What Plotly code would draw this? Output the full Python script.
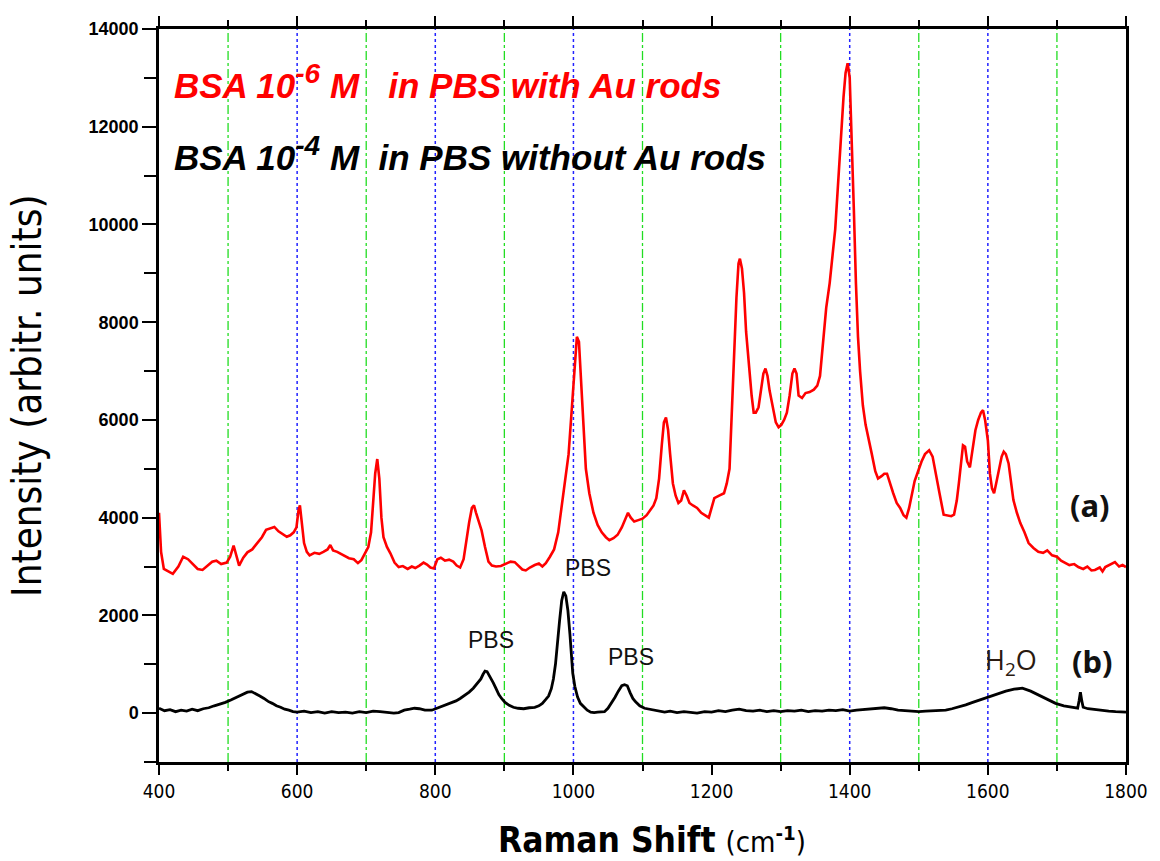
import plotly.graph_objects as go

# Raman shift (cm^-1) and intensity, spectrum (a): BSA 1e-6 M in PBS with Au rods
shift_a = [400, 403, 407, 413, 420, 428, 435, 442, 449, 456, 463, 470, 477, 483, 490, 498, 503, 508, 512, 516,
           522, 528, 535, 543, 549, 555, 561, 567, 573, 579, 585, 590, 595, 599, 602, 604, 607, 610, 614, 618,
           625, 632, 638, 644, 648, 652, 658, 664, 670, 675, 682, 688, 693, 698, 703, 707, 710, 713, 716, 719,
           722, 725, 730, 735, 741, 747, 753, 760, 766, 771, 777, 783, 788, 793, 798, 803, 808, 814, 820, 826,
           831, 836, 841, 845, 849, 853, 856, 859, 863, 867, 872, 877, 882, 888, 895, 902, 909, 915, 921, 926,
           931, 937, 944, 950, 955, 960, 966, 972, 978, 983, 988, 993, 998, 1002, 1005, 1008, 1011, 1014, 1018,
           1023, 1029, 1035, 1041, 1047, 1052, 1058, 1064, 1070, 1075, 1079, 1083, 1088, 1094, 1100, 1106, 1111,
           1116, 1120, 1124, 1128, 1131, 1134, 1137, 1140, 1144, 1148, 1152, 1156, 1160, 1164, 1168, 1173, 1179,
           1185, 1190, 1196, 1200, 1204, 1211, 1218, 1222, 1226, 1230, 1233, 1236, 1239, 1241, 1244, 1247, 1250,
           1254, 1258, 1261, 1264, 1268, 1272, 1275, 1278, 1281, 1284, 1289, 1293, 1297, 1301, 1305, 1309, 1313,
           1317, 1320, 1323, 1326, 1331, 1336, 1342, 1348, 1353, 1357, 1361, 1366, 1371, 1375, 1379, 1383, 1387,
           1391, 1394, 1397, 1400, 1403, 1406, 1409, 1412, 1415, 1419, 1423, 1427, 1432, 1437, 1441, 1446, 1450,
           1454, 1458, 1463, 1468, 1473, 1478, 1482, 1486, 1490, 1494, 1499, 1504, 1509, 1515, 1520, 1525, 1530,
           1536, 1542, 1547, 1551, 1555, 1558, 1561, 1564, 1567, 1570, 1574, 1578, 1582, 1586, 1590, 1593, 1596,
           1600, 1603, 1606, 1609, 1612, 1616, 1620, 1623, 1626, 1630, 1634, 1637, 1642, 1647, 1653, 1659, 1666,
           1673, 1680, 1686, 1693, 1700, 1706, 1712, 1718, 1725, 1731, 1738, 1744, 1750, 1755, 1762, 1766, 1770,
           1777, 1784, 1790, 1795, 1800]
intensity_a = [4100, 3300, 2950, 2900, 2850, 3000, 3200, 3150, 3050, 2950, 2930, 3020, 3100, 3120, 3050, 3080, 3200, 3430, 3250, 3020,
               3180, 3290, 3350, 3480, 3600, 3750, 3780, 3810, 3720, 3660, 3610, 3640, 3700, 3800, 4150, 4250, 3900, 3480, 3300, 3230,
               3280, 3260, 3300, 3350, 3440, 3330, 3300, 3250, 3200, 3170, 3150, 3070, 3130, 3250, 3400, 3700, 4300, 4900, 5200, 4800,
               4000, 3600, 3400, 3270, 3080, 2990, 3010, 2950, 3000, 2970, 3020, 3080, 3040, 2980, 2960, 3150, 3180, 3120, 3140, 3100,
               3020, 2980, 3150, 3580, 3900, 4200, 4250, 4100, 3900, 3740, 3400, 3100, 3020, 3000, 3010, 3050, 3100, 3090, 3000, 2940,
               2920, 2980, 3030, 3060, 3000, 3070, 3200, 3350, 3700, 4200, 4700, 5300, 6300, 7200, 7700, 7600, 6800, 5800, 5000,
               4500, 4100, 3850, 3700, 3600, 3540, 3580, 3650, 3800, 3950, 4100, 4000, 3920, 3950, 3980, 4050, 4150,
               4250, 4400, 4800, 5500, 5950, 6050, 5800, 5300, 4700, 4450, 4300, 4350, 4560, 4450, 4300, 4250, 4200,
               4100, 4050, 4000, 4200, 4400, 4450, 4500, 4700, 5000, 6400, 7600, 8500, 9200, 9300, 9100, 8600, 7800,
               7050, 6500, 6150, 6150, 6260, 6600, 6950, 7050, 6900, 6600, 6200, 5950, 5850, 5900, 6000, 6150, 6500,
               6950, 7050, 6950, 6500, 6450, 6550, 6570, 6620, 6700, 6900, 7600, 8300, 8800, 9400, 9900, 10800, 11800,
               12600, 13100, 13300, 13000, 11800, 10300, 8800, 7700, 7000, 6300, 5900, 5600, 5300, 4950, 4800, 4850, 4900,
               4900, 4700, 4500, 4300, 4200, 4050, 4000, 4200, 4450, 4750, 4950, 5150, 5300, 5380, 5250, 4910, 4500,
               4060, 4050, 4030, 4060, 4350, 4700, 5100, 5480, 5450, 5150, 5030, 5400, 5790, 6000, 6150, 6200, 6000,
               5580, 4900, 4600, 4500, 4700, 4970, 5250, 5350, 5300, 5110, 4700, 4360, 4100, 3890, 3700, 3480, 3380,
               3300, 3280, 3330, 3230, 3200, 3120, 3070, 3030, 3050, 2990, 2950, 3000, 2920, 2930, 2980, 2900, 2990,
               3040, 3090, 3000, 3030, 2990]

# Spectrum (b): BSA 1e-4 M in PBS without Au rods
shift_b = [400, 408, 416, 424, 432, 440, 448, 456, 464, 472, 480, 488, 496, 504, 512, 520, 528, 534, 540, 546,
           552, 558, 564, 570, 576, 582, 588, 594, 600, 610, 620, 630, 640, 650, 660, 670, 680, 690, 700, 710,
           720, 730, 740, 747, 755, 763, 770, 777, 785, 795, 803, 810, 817, 823, 830, 836, 843, 849, 855, 862,
           866, 869, 872, 875, 878, 881, 884, 888, 892, 896, 901, 907, 913, 920, 928, 936, 944, 950, 955, 960,
           964, 968, 971, 974, 977, 980, 983, 986, 989, 992, 995, 997, 999, 1002, 1006, 1010, 1015, 1020, 1025,
           1030, 1035, 1040, 1045, 1050, 1055, 1060, 1065, 1070, 1074, 1078, 1082, 1086, 1090, 1096, 1103, 1110,
           1117, 1125, 1132, 1140, 1150, 1160, 1170, 1179, 1190, 1200, 1210, 1220, 1230, 1240, 1250, 1260, 1270,
           1280, 1290, 1300, 1310, 1320, 1330, 1340, 1350, 1360, 1370, 1380, 1390, 1400, 1410, 1420, 1430, 1440,
           1450, 1460, 1470, 1480, 1490, 1500, 1510, 1520, 1530, 1539, 1548, 1557, 1568, 1578, 1590, 1600, 1612,
           1626, 1638, 1650, 1662, 1673, 1685, 1698, 1710, 1722, 1730, 1732, 1734, 1736, 1738, 1745, 1755, 1765,
           1775, 1785, 1796, 1800]
intensity_b = [100, 50, 70, 30, 60, 40, 80, 50, 90, 110, 150, 180, 220, 270, 320, 380, 430, 440, 400, 350,
               300, 240, 200, 150, 120, 80, 60, 30, 20, 40, 10, 30, 0, 30, 10, 20, 0, 30, 10, 40,
               30, 20, 0, 10, 60, 80, 100, 90, 60, 60, 100, 140, 170, 200, 250, 300, 370, 430, 510, 630,
               700, 790, 860, 850, 780, 700, 620, 500, 380, 300, 220, 160, 120, 100, 90, 110, 120, 150, 200, 280,
               350, 500, 700, 1000, 1500, 1900, 2300, 2480, 2400, 2100, 1600, 1200, 820, 550, 330, 200, 120, 60, 20,
               10, 20, 30, 30, 100, 200, 320, 450, 560, 580, 560, 420, 300, 230, 150, 100, 80,
               50, 30, 20, 40, 10, 30, 10, 0, 30, 20, 50, 30, 60, 80, 50, 40, 60,
               30, 50, 30, 50, 40, 60, 30, 50, 40, 60, 50, 70, 40, 60, 70, 90, 100,
               110, 90, 60, 50, 40, 30, 40, 50, 60, 60, 90, 120, 170, 220, 280, 330, 390,
               450, 490, 510, 450, 370, 280, 200, 150, 120, 100, 250, 430, 250, 120, 90, 70, 60,
               40, 30, 20, 20]

x_ticks = [400, 600, 800, 1000, 1200, 1400, 1600, 1800]
x_tick_text = ["400", "600", "800", "1000", "1200", "1400", "1600", "1800"]
y_ticks = [0, 2000, 4000, 6000, 8000, 10000, 12000, 14000]
y_tick_text = ["0", "2000", "4000", "6000", "8000", "10000", "12000", "14000"]
# Vertical reference lines: odd hundreds in green, even hundreds in blue
green_lines = [500, 700, 900, 1100, 1300, 1500, 1700]
blue_lines = [600, 800, 1000, 1400, 1600]

NARROW = "Liberation Sans Narrow, DejaVu Sans Condensed, Roboto Condensed, Arial Narrow, sans-serif"
SANS = "Liberation Sans, Arial, sans-serif"

fig = go.Figure()

fig.add_trace(go.Scatter(x=shift_a, y=intensity_a, mode="lines",
                         line=dict(color="#ff0000", width=2.6), showlegend=False))
fig.add_trace(go.Scatter(x=shift_b, y=intensity_b, mode="lines",
                         line=dict(color="#000000", width=2.8), showlegend=False))

shapes = []
for v in green_lines:
    shapes.append(dict(type="line", xref="x", yref="paper", x0=v, x1=v, y0=0, y1=1,
                       line=dict(color="#22dd22", width=1.3, dash="dashdot"), layer="below"))
for v in blue_lines:
    shapes.append(dict(type="line", xref="x", yref="paper", x0=v, x1=v, y0=0, y1=1,
                       line=dict(color="#2222ff", width=1.5, dash="dot"), layer="below"))

sup = "<sup><span style='font-size:28px'>{}</span></sup>"
annotations = [
    dict(x=419, y=12920, xref="x", yref="y", xanchor="left", yanchor="middle", showarrow=False,
         text="BSA 10" + sup.format("-6") + " M&nbsp;&nbsp; in PBS with Au rods",
         font=dict(family=SANS, size=35, color="#ff0000", weight="bold", style="italic")),
    dict(x=419, y=11450, xref="x", yref="y", xanchor="left", yanchor="middle", showarrow=False,
         text="BSA 10" + sup.format("-4") + " M&nbsp; in PBS without Au rods",
         font=dict(family=SANS, size=35, color="#000000", weight="bold", style="italic")),
    dict(x=1748, y=4260, xref="x", yref="y", showarrow=False, text="(a)",
         font=dict(family="Noto Sans, sans-serif", size=31, color="#111111", weight="bold")),
    dict(x=1751, y=1064, xref="x", yref="y", showarrow=False, text="(b)",
         font=dict(family="Noto Sans, sans-serif", size=31, color="#111111", weight="bold")),
    dict(x=880, y=1500, xref="x", yref="y", showarrow=False, text="PBS",
         font=dict(family=SANS, size=23, color="#111111")),
    dict(x=1021, y=2970, xref="x", yref="y", showarrow=False, text="PBS",
         font=dict(family=SANS, size=23, color="#111111")),
    dict(x=1084, y=1150, xref="x", yref="y", showarrow=False, text="PBS",
         font=dict(family=SANS, size=23, color="#111111")),
    dict(x=1633, y=1064, xref="x", yref="y", showarrow=False, text="H<sub>2</sub>O",
         font=dict(family="Open Sans, sans-serif", size=27, color="#2a1a10")),
    # Axis titles
    dict(x=-0.163, y=0.5, xref="paper", yref="paper", showarrow=False, textangle=-90,
         text="Intensity (arbitr. units)",
         font=dict(family=NARROW, size=40, color="#000000")),
    dict(x=0.51, y=-0.107, xref="paper", yref="paper", showarrow=False, yanchor="middle",
         text="<b>Raman Shift</b> <span style='font-size:29px'>(cm<sup><b>-1</b></sup>)</span>",
         font=dict(family=NARROW, size=35, color="#000000")),
]

fig.update_layout(
    width=1160, height=861,
    margin=dict(l=159, r=29, t=29, b=99),
    plot_bgcolor="white", paper_bgcolor="white",
    shapes=shapes, annotations=annotations,
    xaxis=dict(range=[400, 1800], tickvals=x_ticks, ticktext=x_tick_text, ticks="outside",
               ticklen=10, tickwidth=2, tickcolor="black", showline=True, linewidth=2.5,
               linecolor="black", mirror="ticks", showgrid=False, zeroline=False,
               minor=dict(dtick=100, tick0=400, ticks="outside", ticklen=6, tickwidth=2, tickcolor="black"),
               tickfont=dict(family=NARROW, size=19, color="black")),
    yaxis=dict(range=[-1000, 14000], tickvals=y_ticks, ticktext=y_tick_text, ticks="outside",
               ticklen=14, tickwidth=2, tickcolor="black", showline=True, linewidth=2.5,
               linecolor="black", mirror=True, showgrid=False, zeroline=False,
               minor=dict(dtick=1000, tick0=-1000, ticks="outside", ticklen=12, tickwidth=2, tickcolor="black"),
               tickfont=dict(family=SANS, size=18, color="black", weight="bold")),
)

fig.write_html("out.html")
